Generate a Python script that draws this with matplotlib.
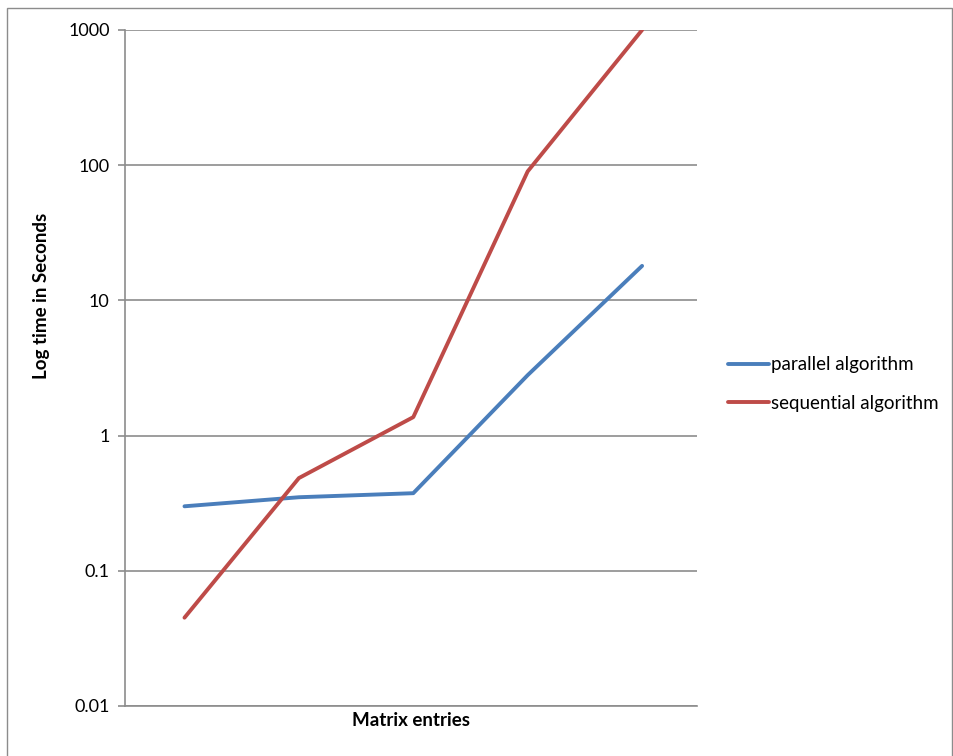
import matplotlib.pyplot as plt
from matplotlib.lines import Line2D
from matplotlib.patches import Rectangle

# values (seconds, log scale)
categories = ["1", "2", "3", "4", "5"]
parallel_times = [0.30, 0.35, 0.375, 2.8, 18.0]
sequential_times = [0.045, 0.485, 1.37, 90.0, 1000.0]
y_ticks = [0.01, 0.1, 1, 10, 100, 1000]
y_tick_labels = ["0.01", "0.1", "1", "10", "100", "1000"]

plt.rcParams["font.family"] = ["Lato", "DejaVu Sans"]

fig = plt.figure(figsize=(9.54, 7.56), dpi=100)
fig.patches.append(Rectangle((7 / 954, -0.01), 945 / 954, 1 - 8 / 756 + 0.01,
                             transform=fig.transFigure, fill=False,
                             edgecolor="#8c8c8c", linewidth=1.0))

ax = fig.add_axes([125 / 954, 1 - 706 / 756, 572 / 954, 676 / 756])
x = range(len(categories))
ax.plot(x, parallel_times, color="#4A7EBB", linewidth=2.8, solid_capstyle="round",
        label="parallel algorithm")
ax.plot(x, sequential_times, color="#BE4B48", linewidth=2.8, solid_capstyle="round",
        label="sequential algorithm")

ax.set_yscale("log")
ax.set_ylim(0.01, 1000)
ax.set_xlim(-0.52, len(categories) - 0.52)
ax.set_yticks(y_ticks)
ax.set_yticklabels(y_tick_labels)
ax.minorticks_off()
ax.set_xticks([])
ax.grid(axis="y", color="#8c8c8c", linewidth=1.2)
ax.set_axisbelow(True)

for side in ["top", "right"]:
    ax.spines[side].set_visible(False)
for side in ["left", "bottom"]:
    ax.spines[side].set_color("#8c8c8c")
    ax.spines[side].set_linewidth(1.2)
ax.tick_params(axis="y", direction="out", length=5, width=1.2, color="#8c8c8c",
               labelsize=13, pad=6)

fig.text(411 / 954, 1 - 721 / 756, "Matrix entries", ha="center", va="center",
         fontsize=13.5, fontweight="bold")
fig.text(42 / 954, 1 - 296 / 756, "Log time in Seconds", ha="center", va="center",
         rotation=90, fontsize=13.5, fontweight="bold")

handles = [
    Line2D([0], [0], color="#4A7EBB", linewidth=2.8, solid_capstyle="round"),
    Line2D([0], [0], color="#BE4B48", linewidth=2.8, solid_capstyle="round"),
]
fig.legend(handles, ["parallel algorithm", "sequential algorithm"],
           loc="center left", bbox_to_anchor=(728 / 954, 1 - 384 / 756),
           frameon=False, fontsize=13.5, handlelength=2.2, handletextpad=0.1,
           labelspacing=1.15, borderpad=0, borderaxespad=0)

fig.savefig("out.png", dpi=100)
